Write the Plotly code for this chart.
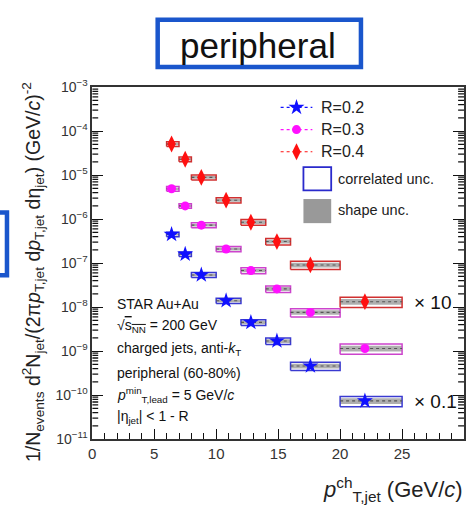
import plotly.graph_objects as go

W, H = 471, 506

# ---------------- data ----------------
bin_lo = [6, 7, 8, 10, 12, 14, 16, 20]
bin_hi = [7, 8, 10, 12, 14, 16, 20, 25]
pt_mean = [6.4, 7.5, 8.8, 10.8, 12.8, 14.9, 17.6, 22.0]
# plotted values (R=0.2 scaled x0.1, R=0.4 scaled x10)
y_R02 = [4.5e-7, 1.6e-7, 5.4e-8, 1.4e-8, 4.5e-9, 1.7e-9, 4.6e-10, 7.4e-11]
y_R03 = [4.9e-6, 2.0e-6, 7.3e-7, 2.1e-7, 6.8e-8, 2.6e-8, 7.6e-9, 1.15e-9]
y_R04 = [5.1e-5, 2.3e-5, 8.9e-6, 2.7e-6, 8.5e-7, 3.1e-7, 9.1e-8, 1.33e-8]
corr_unc = [0.12, 0.12, 0.13, 0.14, 0.15, 0.17, 0.21, 0.26]
shape_unc = [0.06, 0.06, 0.07, 0.08, 0.09, 0.10, 0.12, 0.15]
series_names = ["R=0.2", "R=0.3", "R=0.4"]
series_vals = [y_R02, y_R03, y_R04]
series_col = ["#1010ff", "#ff10ff", "#ff1010"]
box_col = ["#3a3ad0", "#cc44cc", "#d03030"]
series_sym = ["star", "circle", "diamond-tall"]
series_size = [12, 9, 12]

x_ticks = [0, 5, 10, 15, 20, 25, 30]
x_minor = [v for v in range(1, 30) if v % 5 != 0]
y_exp = list(range(-11, -2))
y_major = [10.0 ** e for e in y_exp]
y_labels = ["10<sup>−%d</sup>" % (-e) for e in y_exp]
y_minor = [m * 10.0 ** e for e in range(-11, -3) for m in range(2, 10)]

# plot-area pixel bounds
L, R_, T, B = 89, 464, 80, 445
X_RANGE = [0, 30]
Y_RANGE = [-11, -3]


def px(x):
    return x / W


def py(y):
    return 1 - y / H


fig = go.Figure()

# minor y ticks (left and right), length 6 px expressed via the x scale
tick_dx = 6 * (X_RANGE[1] - X_RANGE[0]) / (R_ - L)
mtx, mty = [], []
for v in y_minor:
    mtx += [X_RANGE[0], X_RANGE[0] + tick_dx, None, X_RANGE[1] - tick_dx, X_RANGE[1], None]
    mty += [v, v, None, v, v, None]
fig.add_trace(go.Scatter(x=mtx, y=mty, mode="lines", line=dict(color="#111", width=1.3),
                         showlegend=False, hoverinfo="skip", cliponaxis=False))

for vals, col, bcol, sym, sz, name in zip(series_vals, series_col, box_col,
                                          series_sym, series_size, series_names):
    sx, sy, cx, cy, lx, ly = [], [], [], [], [], []
    for lo, hi, v, cu, su in zip(bin_lo, bin_hi, vals, corr_unc, shape_unc):
        sx += [lo, hi, hi, lo, lo, None]
        sy += [v * (1 - su), v * (1 - su), v * (1 + su), v * (1 + su), v * (1 - su), None]
        cx += [lo, hi, hi, lo, lo, None]
        cy += [v * (1 - cu), v * (1 - cu), v * (1 + cu), v * (1 + cu), v * (1 - cu), None]
        lx += [lo, hi, None]
        ly += [v, v, None]
    fig.add_trace(go.Scatter(x=sx, y=sy, mode="lines", fill="toself",
                             fillcolor="rgba(110,110,110,0.55)",
                             line=dict(width=0), showlegend=False, hoverinfo="skip"))
    fig.add_trace(go.Scatter(x=cx, y=cy, mode="lines",
                             line=dict(color=bcol, width=1.5), showlegend=False,
                             hoverinfo="skip"))
    fig.add_trace(go.Scatter(x=lx, y=ly, mode="lines",
                             line=dict(color="#555", width=1.1, dash="dot"),
                             showlegend=False, hoverinfo="skip"))
    fig.add_trace(go.Scatter(x=pt_mean, y=vals, mode="markers", name=name,
                             marker=dict(symbol=sym, size=sz, color=col,
                                         line=dict(width=0)),
                             showlegend=False))

# ---------------- legend (pixel overlay axes) ----------------
leg_y = [101, 124, 147]
for yy, col, sym, sz, name in zip(leg_y, series_col, series_sym, series_size, series_names):
    fig.add_trace(go.Scatter(x=[279, 311], y=[yy, yy], mode="lines",
                             line=dict(color=col, width=1.2, dash="dot"),
                             xaxis="x2", yaxis="y2", showlegend=False, hoverinfo="skip"))
    fig.add_trace(go.Scatter(x=[295], y=[yy], mode="markers",
                             marker=dict(symbol=sym, size=sz, color=col),
                             xaxis="x2", yaxis="y2", showlegend=False, hoverinfo="skip"))
    fig.add_annotation(x=px(318), y=py(yy), xref="paper", yref="paper",
                       text=name, showarrow=False, xanchor="left", yanchor="middle",
                       font=dict(size=16, color="#222", family="Liberation Sans"))

fig.add_shape(type="rect", xref="paper", yref="paper",
              x0=px(302), x1=px(330), y0=py(163), y1=py(187),
              line=dict(color="#2a2acc", width=1.8), fillcolor="white")
fig.add_shape(type="rect", xref="paper", yref="paper",
              x0=px(302), x1=px(330), y0=py(196), y1=py(221),
              line=dict(width=0), fillcolor="#999999")
fig.add_annotation(x=px(335), y=py(175), xref="paper", yref="paper",
                   text="correlated unc.", showarrow=False, xanchor="left",
                   yanchor="middle", font=dict(size=14.5, color="#222", family="Liberation Sans"))
fig.add_annotation(x=px(335), y=py(207), xref="paper", yref="paper",
                   text="shape unc.", showarrow=False, xanchor="left",
                   yanchor="middle", font=dict(size=14.5, color="#222", family="Liberation Sans"))

# ---------------- text ----------------
info = [
    ("STAR Au+Au", 305),
    ("√<span style='text-decoration:overline'>s<sub>NN</sub></span> = 200 GeV", 328),
    ("charged jets, anti-<i>k</i><sub>T</sub>", 352),
    ("peripheral (60-80%)", 376),
    ("<i>p</i><sup>min</sup><sub>T,lead</sub> = 5 GeV/<i>c</i>", 399),
    ("|η<sub>jet</sub>| < 1 - R", 422),
]
for t, yy in info:
    fig.add_annotation(x=px(112), y=py(yy), xref="paper", yref="paper", text=t,
                       showarrow=False, xanchor="left", yanchor="middle",
                       font=dict(size=14, color="#111", family="Liberation Sans"))

fig.add_annotation(x=px(411), y=py(303), xref="paper", yref="paper", text="× 10",
                   showarrow=False, xanchor="left", yanchor="middle",
                   font=dict(size=19, color="#111", family="Liberation Sans"))
fig.add_annotation(x=px(411), y=py(406), xref="paper", yref="paper", text="× 0.1",
                   showarrow=False, xanchor="left", yanchor="middle",
                   font=dict(size=19, color="#111", family="Liberation Sans"))

# axis titles
fig.add_annotation(x=px(465), y=py(497), xref="paper", yref="paper",
                   text="<i>p</i><sup>ch</sup><sub>T,jet</sub> (GeV/<i>c</i>)",
                   showarrow=False, xanchor="right", yanchor="middle",
                   font=dict(size=22, color="#222", family="Liberation Sans"))
fig.add_annotation(x=px(29), y=py(272), xref="paper", yref="paper",
                   text="1/N<sub>events</sub> d<sup>2</sup>N<sub>jet</sub>/(2π<i>p</i><sub>T,jet</sub> d<i>p</i><sub>T,jet</sub> dη<sub>jet</sub>) (GeV/<i>c</i>)<sup>-2</sup>",
                   showarrow=False, textangle=-90, xanchor="center", yanchor="middle",
                   font=dict(size=19.5, color="#222", family="Liberation Sans"))

# title box
fig.add_shape(type="rect", xref="paper", yref="paper",
              x0=px(155), x1=px(360), y0=py(10), y1=py(59),
              line=dict(color="#1a56cc", width=4.5), fillcolor="white")
fig.add_annotation(x=px(256), y=py(37), xref="paper", yref="paper", text="peripheral",
                   showarrow=False, xanchor="center", yanchor="middle",
                   font=dict(size=35, color="#111", family="Liberation Sans"))
# partial blue box at left edge
fig.add_shape(type="rect", xref="paper", yref="paper",
              x0=px(-20), x1=px(3), y0=py(210), y1=py(275),
              line=dict(color="#1a56cc", width=4.5), fillcolor="rgba(0,0,0,0)")

fig.update_layout(
    width=W, height=H,
    margin=dict(l=0, r=0, t=0, b=0),
    paper_bgcolor="white", plot_bgcolor="rgba(0,0,0,0)",
    showlegend=False,
    font=dict(family="Liberation Sans", color="#333"),
    xaxis=dict(domain=[px(L), px(R_)], range=X_RANGE, tickvals=x_ticks,
               ticks="inside", ticklen=10, tickwidth=1.3, tickcolor="#111",
               minor=dict(ticks="inside", ticklen=6, tickwidth=1.3, tickmode="array",
                          tickvals=x_minor, tickcolor="#111"),
               showline=True, linecolor="#333", linewidth=1.6, mirror=True,
               showgrid=False, zeroline=False, tickfont=dict(size=15, color="#333"),
               anchor="y"),
    yaxis=dict(domain=[py(B), py(T)], type="log", range=Y_RANGE,
               tickmode="array", tickvals=y_major, ticktext=y_labels,
               ticks="inside", ticklen=11, tickwidth=1.3, tickcolor="#111",
               showline=True, linecolor="#333", linewidth=1.6, mirror="ticks",
               showgrid=False, zeroline=False, tickfont=dict(size=14, color="#333"),
               anchor="x"),
    xaxis2=dict(overlaying="x", range=[L, R_], visible=False, anchor="y2"),
    yaxis2=dict(overlaying="y", range=[B, T], visible=False, anchor="x2"),
)

fig.write_html("out.html")
